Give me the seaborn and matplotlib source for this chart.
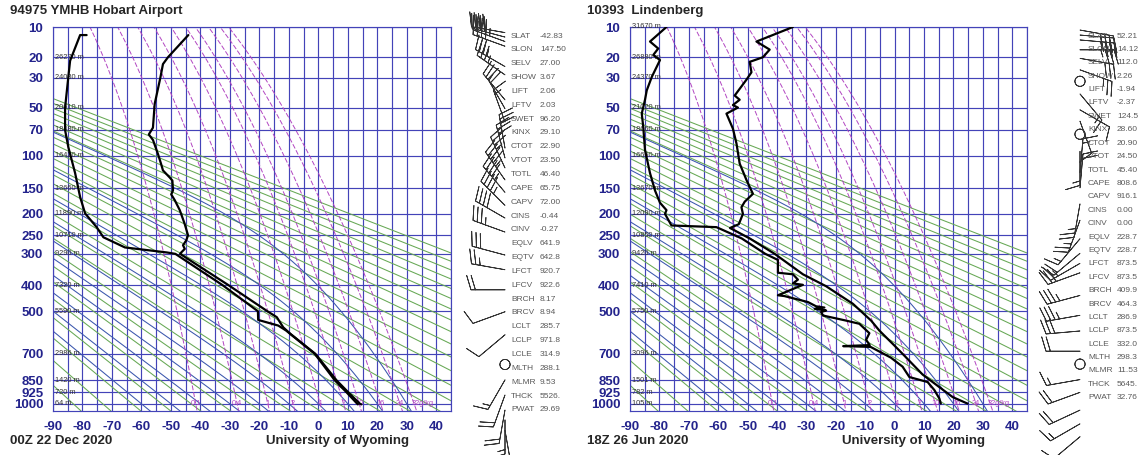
import numpy as np
import pandas as pd
import matplotlib
matplotlib.use("Agg")
import matplotlib.pyplot as plt
import seaborn as sns

sns.set_theme(style="white")
plt.rcParams['font.family'] = ['Liberation Sans', 'DejaVu Sans']

KAPPA = 0.286
W, H = 1145, 455

# ------------------------------------------------------------------ data
station_titles = ["94975 YMHB Hobart Airport", "10393  Lindenberg"]
time_labels = ["00Z 22 Dec 2020", "18Z 26 Jun 2020"]
credit = "University of Wyoming"

pressure_levels = [10, 20, 30, 50, 70, 100, 150, 200, 250, 300, 400, 500, 700, 850, 925, 1000]
temp_ticks = [-90, -80, -70, -60, -50, -40, -30, -20, -10, 0, 10, 20, 30, 40]
mixing_ratios = [0.1, 0.4, 1, 2, 4, 7, 10, 16, 24, 32]
mixing_labels = ["0.1", "0.4", "1", "2", "4", "7", "10", "16", "24", "32g/kg"]
dry_thetas = list(range(190, 460, 10))          # K
moist_thetaw = list(range(-60, 40, 10))         # deg C

# Hobart
hob_height_p = [20, 30, 50, 70, 100, 150, 200, 250, 300, 400, 500, 700, 850, 925, 1000]
hob_heights = ["26270 m", "24030 m", "20610 m", "18480 m", "16420 m", "13660 m", "11890 m",
               "10710 m", "9290 m", "7320 m", "5590 m", "2986 m", "1420 m", "720 m", "64 m"]
hob_T_p = [1004, 1000, 925, 850, 700, 600, 570, 525, 500, 400, 300, 296, 286, 276, 263, 250,
           223, 192, 172, 161, 154, 137, 132, 121, 112, 98, 81, 75, 68, 47, 30, 23, 20, 12.2]
hob_T = [14.6, 14.1, 10.2, 6.2, -1.0, -9.5, -11.9, -14.1, -17.3, -30.5, -46.9, -46.5, -45.3,
         -45.9, -44.8, -44.2, -45.3, -47.0, -48.7, -49.9, -49.3, -49.5, -50.4, -52.7, -53.3,
         -54.4, -56.1, -57.5, -56.1, -55.5, -53.6, -52.7, -51.0, -44.1]
hob_Td_p = [1004, 1000, 925, 850, 700, 585, 562, 537, 500, 400, 300, 296, 282, 255, 230, 199,
            166, 125, 89.5, 70.5, 50, 29.5, 21.5, 12.2, 12.2]
hob_Td = [13.4, 13.2, 9.6, 5.6, -1.2, -10.9, -13.6, -20.4, -20.5, -32.5, -48.5, -51.4, -65.6,
          -72.9, -75.2, -79.1, -80.8, -82.5, -84.8, -85.9, -85.9, -84.8, -84.2, -80.8, -78.6]
hob_wind_p = [11.5, 12.8, 14.2, 15.8, 24.2, 28.4, 44.2, 51, 62.7, 91, 103.7, 117.8, 136.5, 158,
              183, 210, 243, 305, 350, 419, 505, 608, 762, 852, 947, 1049, 1121, 1200]
hob_wind_dir = [280, 285, 290, 290, 300, 305, 320, 330, 340, 350, 345, 335, 325, 320, 315, 300,
                290, 285, 280, 270, 250, 230, 0, 210, 200, 190, 180, 170]
hob_wind_spd = [40, 40, 45, 40, 35, 35, 25, 20, 15, 30, 30, 35, 45, 45, 45, 40, 35, 30, 25, 20,
                10, 10, 0, 15, 20, 20, 15, 10]
hob_index_names = ["SLAT", "SLON", "SELV", "SHOW", "LIFT", "LFTV", "SWET", "KINX", "CTOT", "VTOT",
                   "TOTL", "CAPE", "CAPV", "CINS", "CINV", "EQLV", "EQTV", "LFCT", "LFCV", "BRCH",
                   "BRCV", "LCLT", "LCLP", "LCLE", "MLTH", "MLMR", "THCK", "PWAT"]
hob_index_values = ["-42.83", "147.50", "27.00", "3.67", "2.06", "2.03", "96.20", "29.10", "22.90",
                    "23.50", "46.40", "65.75", "72.00", "-0.44", "-0.27", "641.9", "642.8", "920.7",
                    "922.6", "8.17", "8.94", "285.7", "971.8", "314.9", "288.1", "9.53", "5526.",
                    "29.69"]

# Lindenberg
lin_height_p = [10, 20, 30, 50, 70, 100, 150, 200, 250, 300, 400, 500, 700, 850, 925, 1000]
lin_heights = ["31670 m", "26880 m", "24370 m", "21020 m", "18660 m", "16660 m", "13670 m",
               "12090 m", "10850 m", "9420 m", "7410 m", "5750 m", "3096 m", "1501 m", "782 m",
               "105 m"]
lin_T_p = [999, 955, 860, 815, 700, 657, 585, 540, 470, 404, 363, 300, 258, 232, 223, 200, 186,
           175, 160, 136, 111, 85, 69, 55, 50, 48, 44, 41, 31, 27, 22, 20, 17, 14.2, 10]
lin_T = [24.8, 19.7, 12.9, 9.5, 2.7, -0.1, -5.2, -8.0, -14.2, -23.3, -31.2, -40.8, -49.3, -56.0,
         -53.0, -51.6, -52.1, -51.0, -48.2, -50.4, -52.7, -53.8, -55.0, -57.2, -53.3, -55.0,
         -52.7, -54.4, -50.4, -48.7, -49.3, -44.8, -42.5, -47.0, -34.6]
lin_Td_p = [999, 965, 910, 860, 830, 770, 720, 664, 660, 655, 629, 597, 554, 540, 518, 503, 497,
            490, 485, 480, 463, 440, 437, 399, 394, 381, 363, 358, 318, 300, 258, 230, 226, 200,
            192, 177, 154, 125, 93, 67, 55, 44, 37.5, 29.5, 21.2, 19.1, 16.6, 14.2, 10]
lin_Td = [15.7, 15.2, 13.5, 11.2, 5.0, 2.7, -1.3, -8.2, -17.5, -8.5, -9.7, -8.6, -12.0, -16.5,
          -24.4, -25.0, -23.3, -27.2, -23.9, -26.7, -29.5, -37.5, -39.7, -31.2, -34.6, -32.9,
          -34.6, -39.7, -39.7, -44.0, -52.0, -60.6, -75.9, -78.1, -77.6, -79.8, -81.5, -83.2,
          -84.9, -85.5, -86.0, -84.9, -84.3, -82.6, -79.8, -82.1, -80.4, -83.2, -77.6]
lin_wind_p = [10.8, 12.2, 13.7, 17.1, 20.5, 25.8, 32, 40, 52, 62, 75, 95, 125, 150, 180, 215,
              260, 300, 330, 360, 440, 520, 590, 690, 760, 850, 930, 1050, 1150, 1250]
lin_wind_dir = [100, 95, 95, 90, 100, 110, 0, 140, 120, 160, 0, 180, 5, 5, 190, 200, 220, 230,
                240, 250, 255, 260, 265, 270, 0, 260, 250, 245, 240, 230]
lin_wind_spd = [40, 40, 35, 35, 30, 25, 0, 15, 10, 10, 0, 15, 15, 20, 25, 25, 15, 20, 25, 30,
                35, 35, 30, 20, 0, 15, 20, 20, 15, 10]
lin_index_values = ["52.21", "14.12", "112.0", "2.26", "-1.94", "-2.37", "124.5", "28.60", "20.90",
                    "24.50", "45.40", "808.6", "916.1", "0.00", "0.00", "228.7", "228.7", "873.5",
                    "873.5", "409.9", "464.3", "286.9", "873.5", "332.0", "298.3", "11.53", "5645.",
                    "32.76"]

# ------------------------------------------------------------------ styles
GRID = "#4343b8"
GREEN = "#66a854"
BLUE = "#3a56ad"
MAG = "#b246c2"
NAVY = "#23238c"


def fwd(p):
    return np.power(np.maximum(p, 1e-6), KAPPA)


def inv(y):
    return np.power(np.maximum(y, 1e-6), 1.0 / KAPPA)


def dewpoint_from_e(e):
    lg = np.log(e / 6.112)
    return 243.5 * lg / (17.67 - lg)


def pseudo_adiabat(tw_c):
    Rd, cp, Lv, eps = 287.04, 1005.7, 2.501e6, 0.622

    def f(T, p):
        es = 6.112 * np.exp(17.67 * (T - 273.15) / (T - 29.65))
        rs = eps * es / (p - es)
        return (Rd * T + Lv * rs) / (p * (cp + Lv * Lv * rs * eps / (Rd * T * T)))

    out = {}
    for p_end in (8.0, 1100.0):
        ps = np.linspace(1000.0, p_end, 600)
        T = tw_c + 273.15
        Ts = [T]
        for i in range(len(ps) - 1):
            p, h = ps[i], ps[i + 1] - ps[i]
            k1 = f(T, p)
            k2 = f(T + 0.5 * h * k1, p + 0.5 * h)
            k3 = f(T + 0.5 * h * k2, p + 0.5 * h)
            k4 = f(T + h * k3, p + h)
            T = T + h * (k1 + 2 * k2 + 2 * k3 + k4) / 6.0
            Ts.append(T)
        out[p_end] = (ps, np.array(Ts) - 273.15)
    pa = np.concatenate([out[8.0][0][::-1], out[1100.0][0][1:]])
    ta = np.concatenate([out[8.0][1][::-1], out[1100.0][1][1:]])
    return pa, ta


MOIST = [pseudo_adiabat(t) for t in moist_thetaw]

fig = plt.figure(figsize=(W / 100, H / 100), dpi=100)


def px_rect(x0, y0, x1, y1):
    return [x0 / W, 1 - y1 / H, (x1 - x0) / W, (y1 - y0) / H]


def draw_chart(x0, x1, title, tlabel, T_p, T, Td_p, Td, h_p, h_lab,
               wind_p, wind_dir, wind_spd, idx_names, idx_vals, barb_x, idx_x, idx_step):
    ax = fig.add_axes(px_rect(x0, 27, x1, 411))
    ax.set_yscale('function', functions=(fwd, inv))
    ax.set_ylim(1050, 10)
    ax.set_xlim(-90, 45)
    pp = np.linspace(5, 1100, 400)
    for t in np.arange(-90, 46, 5):
        ax.axvline(t, color=GRID, lw=0.85, zorder=1)
    for p in pressure_levels:
        ax.axhline(p, color=GRID, lw=0.85, zorder=1)
    for th in dry_thetas:
        tt = th * (pp / 1000.0) ** KAPPA - 273.15
        ax.plot(tt, pp, color=GREEN, lw=0.75, zorder=2)
    for pa, ta in MOIST:
        ax.plot(ta, pa, color=BLUE, lw=0.75, zorder=2)
    for w in mixing_ratios:
        e = w * pp / (622.0 + w)
        ax.plot(dewpoint_from_e(e), pp, color=MAG, lw=0.7, ls=(0, (5, 2)), zorder=2)
    for i, (w, lab) in enumerate(zip(mixing_ratios, mixing_labels)):
        e = w * 1000 / (622.0 + w)
        last = i == len(mixing_ratios) - 1
        ax.text(dewpoint_from_e(e) - (0.7 if last else 0), 1000, lab, color=MAG, fontsize=5.3,
                ha='left' if last else 'center', va='center', zorder=3)
    for p, lab in zip(h_p, h_lab):
        ax.text(-89.2, p, lab, fontsize=5.3, color="#333333", va='center', ha='left', zorder=3)
    dT = pd.DataFrame({"T": T, "p": T_p})
    dD = pd.DataFrame({"T": Td, "p": Td_p})
    sns.lineplot(data=dT, x="T", y="p", sort=False, estimator=None, color="black",
                 lw=1.6, ax=ax, zorder=5)
    sns.lineplot(data=dD, x="T", y="p", sort=False, estimator=None, color="black",
                 lw=1.6, ax=ax, zorder=5)
    ax.set_xlabel("")
    ax.set_ylabel("")
    ax.set_xticks(temp_ticks)
    ax.set_xticklabels([str(t) for t in temp_ticks], fontsize=9.5, fontweight='bold', color=NAVY)
    ax.set_yticks(pressure_levels)
    ax.set_yticklabels([str(p) for p in pressure_levels], fontsize=9.5, fontweight='bold',
                       color=NAVY)
    ax.yaxis.set_minor_locator(matplotlib.ticker.NullLocator())
    ax.tick_params(axis='both', length=0)
    ax.tick_params(axis='x', pad=7)
    ax.tick_params(axis='y', pad=7)
    for s in ax.spines.values():
        s.set_color(GRID)
        s.set_linewidth(0.85)
    # wind barbs (own column, same pressure scale, reaching to bottom of figure)
    bx = fig.add_axes(px_rect(barb_x - 40, 27, barb_x + 20, 455))
    bx.set_yscale('function', functions=(fwd, inv))
    bx.set_ylim(1402, 10)
    bx.set_xlim(-40, 20)
    bx.axis('off')
    d = np.deg2rad(np.array(wind_dir, dtype=float))
    s = np.array(wind_spd, dtype=float)
    u = -s * np.sin(d)
    v = -s * np.cos(d)
    bx.barbs(np.zeros(len(wind_p)), np.array(wind_p, dtype=float), u, v, length=7.0,
             pivot='tip', lw=0.6, color="#333333", clip_on=False,
             sizes=dict(emptybarb=0.15, spacing=0.13, height=0.42))
    for i, (n, vv) in enumerate(zip(idx_names, idx_vals)):
        y = 36 + i * idx_step
        fig.text(idx_x / W, 1 - y / H, n, fontsize=6.0, color="#5a5a5a", va='center')
        fig.text((idx_x + 29) / W, 1 - y / H, vv, fontsize=6.0, color="#5a5a5a", va='center')
    fig.text((x0 - 43) / W, 1 - 11 / H, title, fontsize=9.5, fontweight='bold', va='center')
    fig.text((x0 - 43) / W, 1 - 441 / H, tlabel, fontsize=9.5, fontweight='bold', va='center')
    fig.text((x0 + 284) / W, 1 - 441 / H, credit, fontsize=9.5, fontweight='bold',
             va='center', ha='center')
    return ax


draw_chart(53, 451, station_titles[0], time_labels[0], hob_T_p, hob_T, hob_Td_p, hob_Td,
           hob_height_p, hob_heights, hob_wind_p, hob_wind_dir, hob_wind_spd,
           hob_index_names, hob_index_values, 505, 511, 13.85)
draw_chart(630, 1027, station_titles[1], time_labels[1], lin_T_p, lin_T, lin_Td_p, lin_Td,
           lin_height_p, lin_heights, lin_wind_p, lin_wind_dir, lin_wind_spd,
           hob_index_names, lin_index_values, 1080, 1088, 13.4)

fig.savefig("out.png", dpi=100, facecolor="white")
